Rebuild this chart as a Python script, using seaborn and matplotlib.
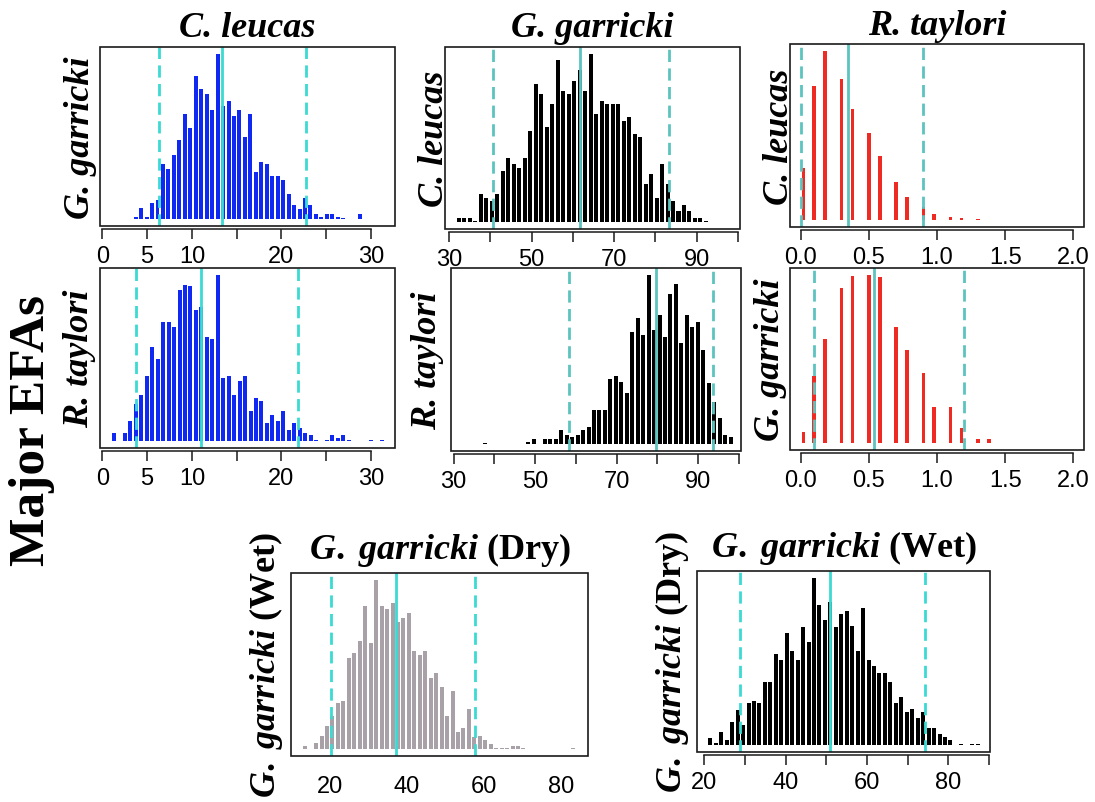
import numpy as np
import pandas as pd
import matplotlib
matplotlib.use("Agg")
import matplotlib.pyplot as plt
from matplotlib.patches import Rectangle
import seaborn as sns

# ---------------- data (relative bar heights) ----------------
# Row "G. garricki", column "C. leucas"  (blue)
p1_counts = [8, 35, 8, 49, 57, 166, 151, 192, 239, 314, 273, 429, 390, 375, 327, 496,
             340, 354, 308, 328, 247, 314, 141, 172, 166, 130, 130, 117, 76, 43, 30, 63,
             43, 15, 8, 15, 15, 8, 3, 0, 0, 15]
p1_first, p1_step = 3.72, 0.61
p1_lines = [6.33, 13.4, 22.74]

# Row "C. leucas", column "G. garricki"  (black)
p2_counts = [13, 13, 13, 3, 83, 73, 63, 83, 153, 193, 173, 163, 193, 273, 413, 383, 283,
             353, 483, 393, 383, 423, 453, 393, 503, 323, 363, 353, 353, 353, 303, 313,
             263, 253, 113, 143, 73, 173, 113, 63, 33, 53, 33, 13, 13, 3]
p2_first, p2_step = 32.4, 1.33
p2_lines = [40.6, 61.7, 83.4]

# Row "C. leucas", column "R. taylori"  (red)
p3_centers = [0.02, 0.10, 0.18, 0.30, 0.38, 0.50, 0.58, 0.70, 0.78, 0.90, 0.98, 1.10, 1.18, 1.30]
p3_counts = [154, 397, 502, 419, 329, 259, 189, 112, 70, 39, 19, 11, 6, 4]
p3_lines = [0.0, 0.345, 0.90]

# Row "R. taylori", column "C. leucas"  (blue)
p4_counts = [25, 0, 25, 62, 113, 137, 195, 283, 247, 358,
             358, 343, 453, 468, 463, 393, 400, 312, 305, 498,
             188, 195, 137, 180, 195, 92, 129, 121, 55, 78,
             62, 92, 33, 55, 40, 25, 18, 4, 0, 4,
             18, 11, 18, 4, 0, 0, 0, 4, 0, 4]
p4_first, p4_step = 1.30, 0.61
p4_lines = [3.80, 11.0, 21.9]

# Row "R. taylori", column "G. garricki"  (black)
p5_counts = [3, 0, 0, 0, 0, 0, 0, 0,
             8, 15, 0, 15, 15, 15, 43, 28, 21, 28,
             43, 50, 100, 100, 100, 193, 200, 185, 150, 330,
             372, 322, 500, 337, 380, 315, 443, 472, 300, 380,
             345, 360, 278, 180, 125, 78, 28, 21]
p5_first, p5_step = 37.64, 1.34
p5_lines = [58.36, 79.67, 93.6]

# Row "G. garricki", column "R. taylori"  (red)
p6_centers = [0.02, 0.10, 0.18, 0.30, 0.38, 0.50, 0.58, 0.70, 0.78, 0.90, 0.98, 1.10, 1.18, 1.30, 1.38]
p6_counts = [33, 200, 310, 462, 500, 503, 495, 347, 278, 210, 108, 108, 47, 13, 13]
p6_lines = [0.10, 0.54, 1.20]

# G. garricki (Dry) vs G. garricki (Wet)  (grey)
p7_counts = [10, 2, 18, 40, 70, 100, 138, 145, 272, 287,
             323, 428, 318, 505, 428, 418, 435, 378, 392, 407,
             293, 280, 293, 212, 227, 185, 100, 174, 50, 62,
             120, 35, 38, 28, 15, 5, 5, 5, 10, 10,
             4, 0, 0, 0, 0, 0, 0, 0, 0, 4]
p7_first, p7_step = 13.5, 1.42
p7_lines = [20.2, 37.1, 57.8]

# G. garricki (Wet) vs G. garricki (Dry)  (black)
p8_counts = [23, 6, 41, 15, 70, 106, 61, 125, 133, 125,
             188, 188, 271, 253, 336, 280, 253, 353, 308, 500,
             418, 373, 428, 353, 392, 402, 355, 282, 410, 255,
             237, 217, 217, 190, 127, 144, 99, 107, 80, 99,
             53, 53, 35, 25, 15, 0, 5, 0, 5, 5]
p8_first, p8_step = 21.47, 1.341
p8_lines = [28.8, 50.9, 74.2]

# tick values / labels
ticks_cl = [0, 5, 10, 15, 20, 25, 30]
labels_cl = ["0", "5", "10", "", "20", "", "30"]
ticks_gg = [30, 40, 50, 60, 70, 80, 90, 100]
labels_gg = ["30", "", "50", "", "70", "", "90", ""]
ticks_rt = [0.0, 0.5, 1.0, 1.5, 2.0]
labels_rt = ["0.0", "0.5", "1.0", "1.5", "2.0"]
ticks_dry = [20, 40, 60, 80]
labels_dry = ["20", "40", "60", "80"]
ticks_wet = [20, 30, 40, 50, 60, 70, 80, 90]
labels_wet = ["20", "", "40", "", "60", "", "80", ""]

# ---------------- style ----------------
sns.set_style("white")
plt.rcParams["font.family"] = ["Liberation Sans", "DejaVu Sans"]
plt.rcParams["mathtext.fontset"] = "custom"
plt.rcParams["mathtext.it"] = "Liberation Serif:italic:bold"
plt.rcParams["mathtext.rm"] = "Liberation Serif:bold"
plt.rcParams["mathtext.bf"] = "Liberation Serif:bold"
plt.rcParams["text.color"] = "black"
plt.rcParams["axes.labelcolor"] = "black"
plt.rcParams["xtick.color"] = "black"
plt.rcParams["xtick.labelcolor"] = "black"

BLUE = "#1029F2"
BLACK = "#000000"
RED = "#EE2A22"
GREY = "#A8A2A8"
CYAN_A = "#3ADBD3"
CYAN_B = "#5CC3BF"

W, H = 1095, 803
fig = plt.figure(figsize=(W / 100, H / 100), dpi=100)

serif_title = dict(family="Liberation Serif", fontweight="bold", fontsize=26, color="black")


def make_ax(l, t, r, b):
    return fig.add_axes([l / W, 1 - b / H, (r - l) / W, (b - t) / H])


def panel(box, centers, counts, width, color, xlim, ticks, labels, lines, lcolor,
          title=None, ylabel=None, ylabel_pad=3, axis_line=True, title_pad=8,
          title_italic=True, ylabel_italic=True):
    ax = make_ax(*box)
    centers = np.asarray(centers, float)
    edges = np.unique(np.concatenate([centers - width / 2, centers + width / 2]))
    df = pd.DataFrame({"value": centers, "count": np.asarray(counts, float)})
    sns.histplot(data=df, x="value", weights="count", bins=list(edges), color=color,
                 alpha=1, linewidth=0, ax=ax)
    m = max(counts)
    ax.set_ylim(-0.04 * m, 1.04 * m)
    ax.set_xlim(*xlim)
    ax.set_yticks([])
    ax.set_xticks(ticks)
    ax.set_xticklabels(labels)
    for i, v in enumerate(lines):
        if i == 1:
            ax.axvline(v, color=lcolor, lw=2.0, zorder=4)
        else:
            ax.axvline(v, color=lcolor, lw=2.0, ls=(0, (4.4, 2.3)), zorder=4)
    # box frame
    ax.add_patch(Rectangle((0, 0), 1, 1, transform=ax.transAxes, fill=False,
                           lw=1.2, ec="#1a1a1a", clip_on=False, zorder=6))
    for s in ["left", "right", "top"]:
        ax.spines[s].set_visible(False)
    if axis_line:
        ax.spines["bottom"].set_visible(True)
        ax.spines["bottom"].set_position(("outward", 2))
        ax.spines["bottom"].set_bounds(ticks[0], ticks[-1])
        ax.spines["bottom"].set_linewidth(1.1)
        ax.spines["bottom"].set_color("#1a1a1a")
        ax.tick_params(axis="x", direction="out", length=7, width=1.1,
                       color="#1a1a1a", pad=5, labelsize=17, bottom=True,
                       labelcolor="black")
    else:
        ax.spines["bottom"].set_visible(False)
        ax.tick_params(axis="x", length=0, pad=14, labelsize=17, bottom=True,
                       labelcolor="black")
    ax.set_xlabel("")
    if title is not None:
        ax.set_title(title, pad=title_pad, fontstyle="italic" if title_italic else "normal",
                     **serif_title)
    if ylabel is not None:
        ax.set_ylabel(ylabel, labelpad=ylabel_pad,
                      fontstyle="italic" if ylabel_italic else "normal", **serif_title)
    else:
        ax.set_ylabel("")
    return ax


def seq(first, step, n):
    return first + step * np.arange(n)


GG_DRY = r"$\mathit{G.}$ $\mathit{garricki}$ (Dry)"
GG_WET = r"$\mathit{G.}$ $\mathit{garricki}$ (Wet)"

# top row
panel((100, 48, 395, 227), seq(p1_first, p1_step, len(p1_counts)), p1_counts, 0.445, BLUE,
      (-0.26, 32.68), ticks_cl, labels_cl, p1_lines, CYAN_A,
      title="C. leucas", ylabel="G. garricki", ylabel_pad=2)
panel((445, 48, 740, 230), seq(p2_first, p2_step, len(p2_counts)), p2_counts, 0.97, BLACK,
      (29.03, 100.5), ticks_gg, labels_gg, p2_lines, CYAN_B,
      title="G. garricki", ylabel="C. leucas", ylabel_pad=-4)
panel((790, 45, 1084, 228), p3_centers, p3_counts, 0.027, RED,
      (-0.078, 2.078), ticks_rt, labels_rt, p3_lines, CYAN_B,
      title="R. taylori", ylabel="C. leucas", ylabel_pad=-4, title_pad=7)

# middle row
panel((100, 269, 395, 449), seq(p4_first, p4_step, len(p4_counts)), p4_counts, 0.445, BLUE,
      (-0.26, 32.68), ticks_cl, labels_cl, p4_lines, CYAN_A,
      ylabel="R. taylori", ylabel_pad=3)
panel((451, 269, 741, 452), seq(p5_first, p5_step, len(p5_counts)), p5_counts, 0.98, BLACK,
      (29.36, 100.5), ticks_gg, labels_gg, p5_lines, CYAN_B,
      ylabel="R. taylori", ylabel_pad=5)
panel((790, 269, 1084, 451), p6_centers, p6_counts, 0.027, RED,
      (-0.078, 2.078), ticks_rt, labels_rt, p6_lines, CYAN_B,
      ylabel="G. garricki", ylabel_pad=2)

# bottom row
panel((291, 574, 588, 757), seq(p7_first, p7_step, len(p7_counts)), p7_counts, 1.04, GREY,
      (9.8, 87.1), ticks_dry, labels_dry, p7_lines, CYAN_A,
      title=GG_DRY, ylabel=GG_WET,
      ylabel_pad=4, axis_line=False, title_pad=11, title_italic=False, ylabel_italic=False)
panel((697, 572, 990, 753), seq(p8_first, p8_step, len(p8_counts)), p8_counts, 0.98, BLACK,
      (18.2, 90.2), ticks_wet, labels_wet, p8_lines, CYAN_A,
      title=GG_WET, ylabel=GG_DRY,
      ylabel_pad=4, title_pad=11, title_italic=False, ylabel_italic=False)

fig.text(32 / W, 1 - 430 / H, "Major EFAs", rotation=90, ha="center", va="center",
         family="Liberation Serif", fontweight="bold", fontsize=37, color="black")

fig.savefig("out.png", dpi=100)
